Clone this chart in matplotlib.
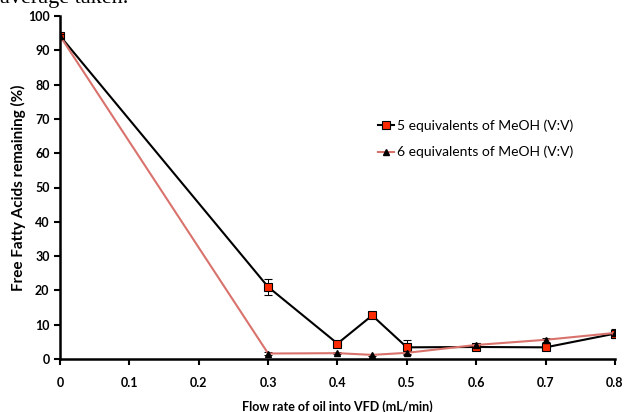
import numpy as np
import matplotlib.pyplot as plt
from matplotlib.lines import Line2D

# -- data --
flow = [0, 0.3, 0.4, 0.45, 0.5, 0.6, 0.7, 0.8]
ffa_5eq = [94.2, 21.0, 4.5, 12.7, 3.4, 3.5, 3.4, 7.4]
err_5eq = [0.6, 2.3, 0.6, 0.5, 2.2, 0.6, 0.8, 1.3]
ffa_6eq = [94.2, 1.6, 1.7, 1.2, 1.8, 4.1, 5.6, 7.6]
err_6eq = [0.5, 0.3, 0.3, 0.2, 0.3, 0.5, 0.6, 0.8]

label_5eq = "5 equivalents of MeOH (V:V)"
label_6eq = "6 equivalents of MeOH (V:V)"
x_ticks = [0, 0.1, 0.2, 0.3, 0.4, 0.5, 0.6, 0.7, 0.8]
x_ticklabels = ["0", "0.1", "0.2", "0.3", "0.4", "0.5", "0.6", "0.7", "0.8"]
y_ticks = list(range(0, 101, 10))

plt.rcParams['font.family'] = ['Lato', 'DejaVu Sans']

fig = plt.figure(figsize=(6.27, 4.12), dpi=100)
ax = fig.add_axes([60 / 627, 53 / 412, 555 / 627, 343 / 412])

red_line = '#d9726c'
style_6 = dict(color=red_line, lw=1.5, marker='^', ms=5, mfc='black', mec='black')
style_5 = dict(color='black', lw=1.5, marker='s', ms=6, mfc='#ff2a00',
               mec='black', mew=0.8)

ax.errorbar(flow, ffa_6eq, yerr=err_6eq, ecolor='black', elinewidth=0.7,
            capsize=3, capthick=0.7, zorder=3, **style_6)
ax.errorbar(flow, ffa_5eq, yerr=err_5eq, ecolor='black', elinewidth=0.7,
            capsize=3, capthick=0.7, zorder=2, **style_5)

ax.set_xlim(0, 0.8)
ax.set_ylim(0, 100)
ax.set_xticks(x_ticks)
ax.set_xticklabels(x_ticklabels)
ax.set_yticks(y_ticks)

for s in ['top', 'right']:
    ax.spines[s].set_visible(False)
for s in ['left', 'bottom']:
    ax.spines[s].set_linewidth(1.8)
ax.tick_params(axis='both', direction='out', width=1.5, length=4,
               labelsize=9)
for lbl in ax.get_xticklabels() + ax.get_yticklabels():
    lbl.set_fontweight('bold')
ax.tick_params(axis='x', pad=9)

ax.set_xlabel("Flow rate of oil into VFD (mL/min)", fontsize=9,
              fontweight='bold', labelpad=8)
ax.set_ylabel("Free Fatty Acids remaining (%)", fontsize=11,
              fontweight='bold', labelpad=1)

handles = [Line2D([], [], **style_5), Line2D([], [], **style_6)]
ax.legend(handles, [label_5eq, label_6eq], loc='upper left',
          bbox_to_anchor=(0.55, 0.735), frameon=False, fontsize=10,
          handlelength=1.2, handletextpad=0.2, labelspacing=1.0)

# clipped line of document text above the chart
fig.text(128 / 627, 1 - 3 / 412, "average taken.", ha='right',
         va='baseline', fontsize=16, family='Liberation Serif')

fig.savefig("out.png", dpi=100)
